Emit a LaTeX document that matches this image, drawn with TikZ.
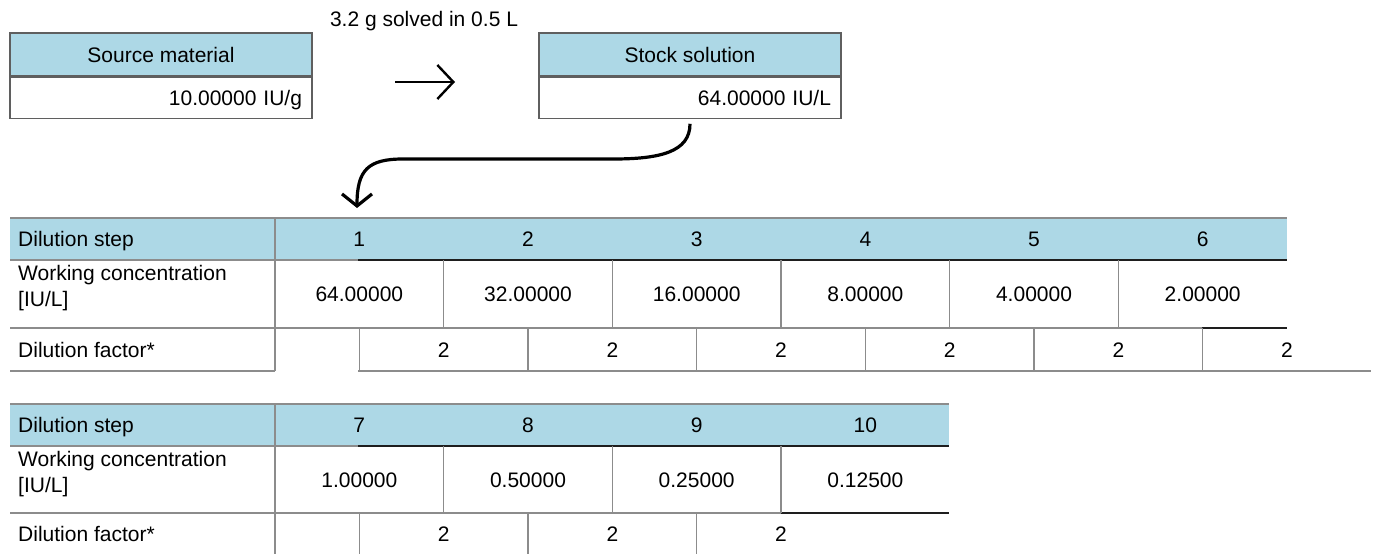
\documentclass[tikz,border=0pt]{standalone}
\usepackage{fontspec}
\setmainfont{Liberation Sans}
\usetikzlibrary{positioning}
\usetikzlibrary{arrows.meta}
\definecolor{headblue}{RGB}{173,216,230}
\definecolor{rulegray}{RGB}{140,140,140}
\definecolor{ruledark}{RGB}{30,30,30}
\definecolor{boxgray}{RGB}{95,95,95}
\tikzset{
	tabtext/.style = {
		inner sep=0pt,
		font=\fontsize{21}{26}\selectfont
	},
	cell/.style = {
		tabtext,
		text height=15pt,
		text depth=0pt
	},
	cell_label/.style = {
		cell,
		anchor=west
	},
	box_head/.style = {
		cell,
		draw=boxgray,
		line width=1.2pt,
		fill=headblue,
		minimum width=302pt,
		minimum height=43pt
	},
	box_val/.style = {
		cell,
		draw=boxgray,
		line width=1.2pt,
		text width=282pt,
		align=right,
		inner xsep=10pt,
		minimum height=41pt
	},
	rule/.style = {
		draw=rulegray,
		line width=1.2pt
	},
	rule_dark/.style = {
		draw=ruledark,
		line width=1.2pt
	},
	flow/.style = {
		line width=3.2pt,
		-{Straight Barb[length=12pt,width=30pt]}
	},
	flow_flat/.style = {
		line width=2.4pt,
		-{Straight Barb[length=16pt,width=34pt]}
	}
}

\begin{document}
\begin{tikzpicture}[x=1pt,y=-1pt]
\useasboundingbox (0,0) rectangle (1373,554);

% source and stock
\node[box_head] (src_head) at (161,54.5) {Source material};
\node[box_val, below=0pt of src_head] (src_val) {10.00000 IU/g};
\node[box_head] (stock_head) at (690,54.5) {Stock solution};
\node[box_val, below=0pt of stock_head] (stock_val) {64.00000 IU/L};
\node[tabtext] (solve_note) at (424,21) {3.2 g solved in 0.5 L};
\coordinate (solve_a) at (395,82);
\coordinate (solve_b) at (455,82);
\draw[flow_flat] (solve_a) -- (solve_b);

% table 1
\fill[headblue] (10,218) rectangle (1287,260);
\draw[rule] (10,218) -- (1287,218);
\draw[rule] (275,218) -- (275,371);
\draw[rule] (10,260) -- (358,260);
\draw[rule_dark] (358,260) -- (1287,260);
\draw[rule] (10,328) -- (1202,328);
\draw[rule_dark] (1202,328) -- (1287,328);
\draw[rule] (10,371) -- (275,371);
\draw[rule] (358,371) -- (1371,371);
\node[cell_label] (t1_step) at (18,239) {Dilution step};
\node[tabtext, anchor=west, align=left] (t1_conc) at (18,288) {Working concentration\\{[IU/L]}};
\node[cell_label] (t1_fac) at (18,349.5) {Dilution factor*};
\foreach \i/\conc in {1/64.00000,2/32.00000,3/16.00000,4/8.00000,5/4.00000,6/2.00000}{
	\pgfmathsetmacro{\xc}{275+168.67*(\i-0.5)}
	\node[cell] (t1_h\i) at (\xc,239) {\i};
	\node[cell] (t1_c\i) at (\xc,294) {\conc};
	\node[cell] (t1_f\i) at (\xc+84.33,349.5) {2};
	\draw[rule] (\xc,328) -- (\xc,371);
	\ifnum\i<6 \draw[rule] (\xc+84.33,260) -- (\xc+84.33,328); \fi
}

% table 2
\fill[headblue] (10,404) rectangle (949,446);
\draw[rule] (10,404) -- (949,404);
\draw[rule] (275,404) -- (275,560);
\draw[rule] (10,446) -- (358,446);
\draw[rule_dark] (358,446) -- (949,446);
\draw[rule] (10,513) -- (781,513);
\draw[rule_dark] (781,513) -- (949,513);
\node[cell_label] (t2_step) at (18,425) {Dilution step};
\node[tabtext, anchor=west, align=left] (t2_conc) at (18,474) {Working concentration\\{[IU/L]}};
\node[cell_label] (t2_fac) at (18,534) {Dilution factor*};
\foreach \i/\conc in {7/1.00000,8/0.50000,9/0.25000,10/0.12500}{
	\pgfmathsetmacro{\xc}{275+168.67*(\i-6.5)}
	\node[cell] (t2_h\i) at (\xc,425) {\i};
	\node[cell] (t2_c\i) at (\xc,479.5) {\conc};
	\ifnum\i<10
		\node[cell] (t2_f\i) at (\xc+84.33,534) {2};
		\draw[rule] (\xc,513) -- (\xc,560);
		\draw[rule] (\xc+84.33,446) -- (\xc+84.33,513);
	\fi
}

% stock solution feeds step 1
\coordinate (bend_r) at (613,159);
\coordinate (bend_l) at (403,159);
\coordinate (t1_in) at (357,208);
\draw[flow] ([yshift=-5pt]stock_val.south) .. controls (690,152) and (660,159) .. (bend_r)
	-- (bend_l) .. controls (368,159) and (357,170) .. (t1_in);
\end{tikzpicture}
\end{document}
